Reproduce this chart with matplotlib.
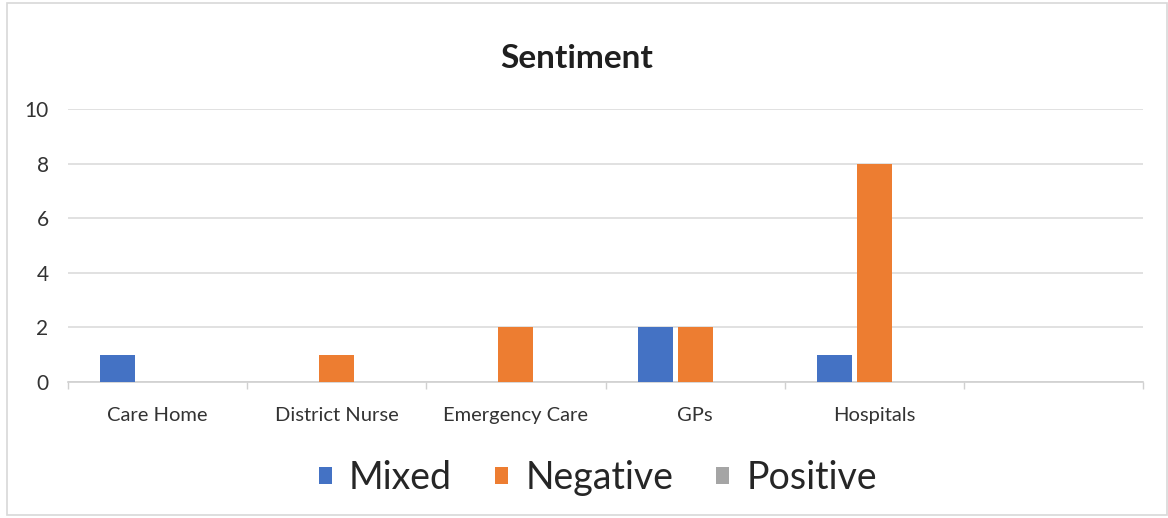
import matplotlib
matplotlib.use("Agg")
import matplotlib.pyplot as plt
from matplotlib.patches import Rectangle
import numpy as np

categories = ["Care Home", "District Nurse", "Emergency Care", "GPs", "Hospitals", ""]
series_names = ["Mixed", "Negative", "Positive"]
mixed = [1, 0, 0, 2, 1, 0]
negative = [0, 1, 2, 2, 8, 0]
positive = [0, 0, 0, 0, 0, 0]
colors = ["#4472C4", "#ED7D31", "#A5A5A5"]
yticks = [0, 2, 4, 6, 8, 10]

plt.rcParams['font.family'] = ['Lato', 'DejaVu Sans']

fig = plt.figure(figsize=(11.68, 5.18), dpi=100)
ax = fig.add_axes([68/1168, (518-382)/518, (1143-68)/1168, (382-109)/518])

x = np.arange(len(categories))
width = 0.195
offset = 0.223
for i, (vals, name, c) in enumerate(zip([mixed, negative, positive], series_names, colors)):
    ax.bar(x + (i - 1) * offset, vals, width=width, color=c, label=name, zorder=3)

ax.set_xlim(-0.5, len(categories) - 0.5)
ax.set_ylim(0, 10)
ax.set_yticks(yticks)
ax.set_yticklabels([str(v) for v in yticks], fontsize=15, color="#333333")
ax.set_xticks(x)
ax.set_xticklabels(categories, fontsize=14.5, color="#333333")
ax.tick_params(axis='y', length=0, pad=14)
ax.tick_params(axis='x', length=0, pad=18)
ax.set_xticks(np.arange(len(categories) + 1) - 0.5, minor=True)
ax.tick_params(axis='x', which='minor', length=5, color="#D0D0D0", width=1)
ax.grid(axis='y', color="#DCDCDC", linewidth=1.2, zorder=0)
for s in ["top", "right", "left"]:
    ax.spines[s].set_visible(False)
ax.spines["bottom"].set_color("#D0D0D0")
ax.spines["bottom"].set_linewidth(1.2)

fig.text(577/1168, 1 - 68/518, "Sentiment", ha="center", va="baseline",
         fontsize=24, fontweight="bold", color="#1F1F1F")

leg = fig.legend(loc="center", bbox_to_anchor=(598/1168, 1 - 478/518), ncol=3,
                 frameon=False, fontsize=27, handlelength=0.35, handleheight=0.35,
                 handletextpad=0.45, columnspacing=1.15, labelcolor="#262626")

fig.add_artist(Rectangle((7/1168, 3/518), 1160/1168, 512/518, transform=fig.transFigure,
                         fill=False, edgecolor="#D8D8D8", linewidth=1.2))

fig.savefig("out.png", dpi=100, facecolor="white")
